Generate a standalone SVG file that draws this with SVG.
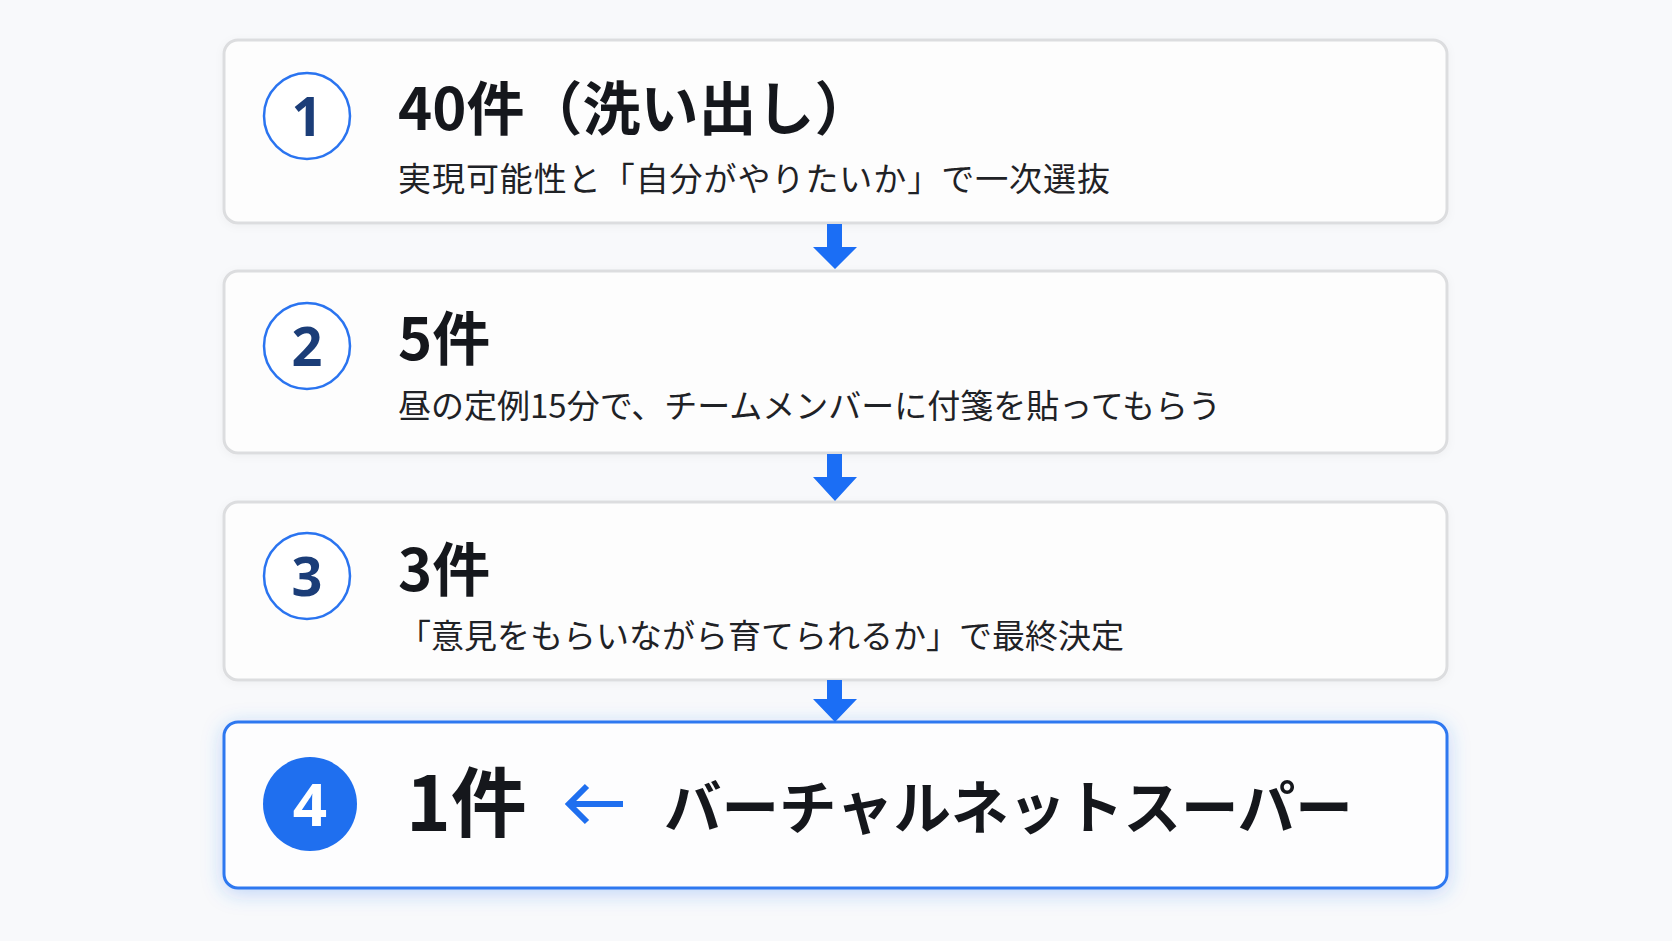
<svg xmlns="http://www.w3.org/2000/svg" width="1672" height="941" viewBox="0 0 1672 941">
  <style>
    .box { fill: #fdfdfd; stroke: #dcdddf; stroke-width: 3; }
    .hl { fill: #fdfdfe; stroke: #2f78f0; stroke-width: 3; }
    .ring { fill: #ffffff; stroke: #2a74f0; stroke-width: 2.5; }
    .num { font-family: "Noto Sans", "Noto Sans CJK JP", sans-serif; font-weight: 700; font-size: 54px; fill: #1b3d78; text-anchor: middle; }
    .title { font-family: "Noto Sans CJK JP", sans-serif; font-weight: 700; font-size: 58px; fill: #15171c; }
    .sub { font-family: "Noto Sans CJK JP", sans-serif; font-weight: 400; font-size: 33px; fill: #1f2226; }
    .conn { fill: #1b6ef5; }
  </style>
  <defs>
    <filter id="glow" x="-10%" y="-30%" width="120%" height="160%">
      <feDropShadow dx="0" dy="4" stdDeviation="10" flood-color="#2f78f0" flood-opacity="0.28"/>
    </filter>
    <filter id="soft" x="-5%" y="-10%" width="110%" height="120%">
      <feDropShadow dx="0" dy="2" stdDeviation="4" flood-color="#000000" flood-opacity="0.04"/>
    </filter>
  </defs>
  <rect x="0" y="0" width="1672" height="941" fill="#f8f9fb"/>

  <g id="node1">
    <rect class="box" x="224" y="40" width="1223" height="183" rx="14" filter="url(#soft)"/>
    <circle class="ring" cx="307" cy="116" r="43"/>
    <text class="num" x="307" y="136">1</text>
    <text class="title" x="398" y="130">40件（洗い出し）</text>
    <text class="sub" x="398" y="191" textLength="712" lengthAdjust="spacing">実現可能性と「自分がやりたいか」で一次選抜</text>
  </g>

  <g id="node2">
    <rect class="box" x="224" y="271" width="1223" height="182" rx="14" filter="url(#soft)"/>
    <circle class="ring" cx="307" cy="346" r="43"/>
    <text class="num" x="307" y="366">2</text>
    <text class="title" x="398" y="360">5件</text>
    <text class="sub" x="398" y="418">昼の定例15分で、チームメンバーに付箋を貼ってもらう</text>
  </g>

  <g id="node3">
    <rect class="box" x="224" y="502" width="1223" height="178" rx="14" filter="url(#soft)"/>
    <circle class="ring" cx="307" cy="576" r="43"/>
    <text class="num" x="307" y="596">3</text>
    <text class="title" x="398" y="591">3件</text>
    <text class="sub" x="398" y="648">「意見をもらいながら育てられるか」で最終決定</text>
  </g>

  <g id="node4">
    <rect class="hl" x="224" y="722" width="1223" height="166" rx="14" filter="url(#glow)"/>
    <circle cx="310" cy="804" r="47" fill="#1f6fef"/>
    <text class="num" x="310" y="826" style="fill:#ffffff;font-size:60px">4</text>
    <text class="title" x="406" y="831" style="font-size:76px">1件</text>
    <g fill="none" stroke="#1f6fef" stroke-width="6" stroke-linecap="butt" stroke-linejoin="miter">
      <line x1="569" y1="804" x2="623" y2="804"/>
      <polyline points="587,786 569,804 587,822"/>
    </g>
    <text class="title" x="664" y="829" style="font-size:57.5px">バーチャルネットスーパー</text>
  </g>

  <g id="connectors">
    <path class="conn" d="M827,224 H842 V247 H857 L835,269 L813,247 H827 Z"/>
    <path class="conn" d="M827,454 H842 V477 H857 L835,501 L813,477 H827 Z"/>
    <path class="conn" d="M827,680 H842 V699 H857 L835,722 L813,699 H827 Z"/>
  </g>
</svg>
